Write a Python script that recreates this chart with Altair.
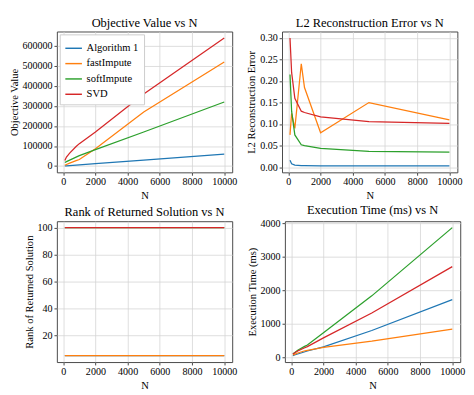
import altair as alt
import pandas as pd

N = [100, 200, 400, 800, 1000, 2000, 5000, 10000]
methods = ["Algorithm 1", "fastImpute", "softImpute", "SVD"]
colors = ["#1f77b4", "#ff7f0e", "#2ca02c", "#d62728"]

obj_alg1 = [600, 1200, 2400, 4800, 6000, 12000, 30000, 60000]
obj_fast = [4000, 8000, 15000, 27000, 33000, 87000, 270000, 520000]
obj_soft = [18000, 22000, 30000, 45000, 52000, 82000, 170000, 320000]
obj_svd = [28000, 45000, 65000, 98000, 112000, 170000, 360000, 640000]

l2_alg1 = [0.016, 0.008, 0.005, 0.004, 0.004, 0.003, 0.003, 0.003]
l2_fast = [0.075, 0.125, 0.09, 0.24, 0.185, 0.08, 0.15, 0.11]
l2_soft = [0.215, 0.13, 0.075, 0.052, 0.05, 0.044, 0.037, 0.035]
l2_svd = [0.30, 0.22, 0.16, 0.13, 0.127, 0.117, 0.106, 0.102]

rank_alg1 = [5, 5, 5, 5, 5, 5, 5, 5]
rank_fast = [5, 5, 5, 5, 5, 5, 5, 5]
rank_soft = [100, 100, 100, 100, 100, 100, 100, 100]
rank_svd = [100, 100, 100, 100, 100, 100, 100, 100]

time_alg1 = [60, 80, 110, 170, 200, 320, 810, 1730]
time_fast = [80, 100, 140, 200, 220, 310, 490, 850]
time_soft = [120, 150, 220, 330, 380, 740, 1840, 3870]
time_svd = [110, 140, 200, 290, 330, 590, 1330, 2710]

FONT = "Liberation Serif, Times New Roman, serif"


def make_df(series):
    rows = []
    for m, vals in zip(methods, series):
        for n, v in zip(N, vals):
            rows.append({"N": n, "value": v, "method": m})
    return pd.DataFrame(rows)


def ax(values, fmt):
    return alt.Axis(values=values, format=fmt, labelFont=FONT, titleFont=FONT,
                    labelFontSize=10.5, titleFontSize=11, titleFontWeight="normal",
                    labelColor="#000", titleColor="#000", gridColor="#d4d4d4",
                    gridWidth=0.8, domain=False, tickColor="#444", tickSize=3,
                    labelPadding=2, titlePadding=3)


def panel(series, title, ytitle, ydomain, yticks, yfmt, legend=False):
    df = make_df(series)
    leg = None
    if legend:
        leg = alt.Legend(orient="top-left", title=None, symbolType="stroke",
                         symbolStrokeWidth=1.5, symbolSize=300,
                         labelFont=FONT, labelFontSize=11, labelColor="#000",
                         fillColor="white", strokeColor="#ccc",
                         padding=5, offset=3, rowPadding=1)
    return alt.Chart(df, title=alt.Title(title, font=FONT, fontSize=13,
                                         fontWeight="normal", color="#000",
                                         offset=2)).mark_line(strokeWidth=1.3).encode(
        x=alt.X("N:Q", title="N",
                scale=alt.Scale(domain=[-395, 10495], nice=False, zero=False),
                axis=ax([0, 2000, 4000, 6000, 8000, 10000], "d")),
        y=alt.Y("value:Q", title=ytitle,
                scale=alt.Scale(domain=ydomain, nice=False, zero=False),
                axis=ax(yticks, yfmt)),
        color=alt.Color("method:N", sort=methods,
                        scale=alt.Scale(domain=methods, range=colors),
                        legend=leg),
        order=alt.Order("N:Q"),
    ).properties(width=183, height=147)


p1 = panel([obj_alg1, obj_fast, obj_soft, obj_svd], "Objective Value vs N",
           "Objective Value", [-31370, 672000],
           [0, 100000, 200000, 300000, 400000, 500000, 600000], "d", legend=True)
p2 = panel([l2_alg1, l2_fast, l2_soft, l2_svd], "L2 Reconstruction Error vs N",
           "L2 Reconstruction Error", [-0.0119, 0.3149],
           [0, 0.05, 0.1, 0.15, 0.2, 0.25, 0.3], ".2f")
p3 = panel([rank_alg1, rank_fast, rank_soft, rank_svd], "Rank of Returned Solution vs N",
           "Rank of Returned Solution", [0.25, 104.75],
           [20, 40, 60, 80, 100], "d")
p4 = panel([time_alg1, time_fast, time_soft, time_svd], "Execution Time (ms) vs N",
           "Execution Time (ms)", [-130, 4060],
           [0, 1000, 2000, 3000, 4000], "d")

chart = alt.vconcat(
    alt.hconcat(p1, p2, spacing=8).resolve_scale(color="independent"),
    alt.hconcat(p3, p4, spacing=8).resolve_scale(color="independent"),
    spacing=2,
).resolve_scale(color="independent").configure(
    background="white", padding=0, font=FONT
).configure_view(
    stroke="#444", strokeWidth=1
)

chart.save("out.html", embed_options={"renderer": "svg", "actions": False})
